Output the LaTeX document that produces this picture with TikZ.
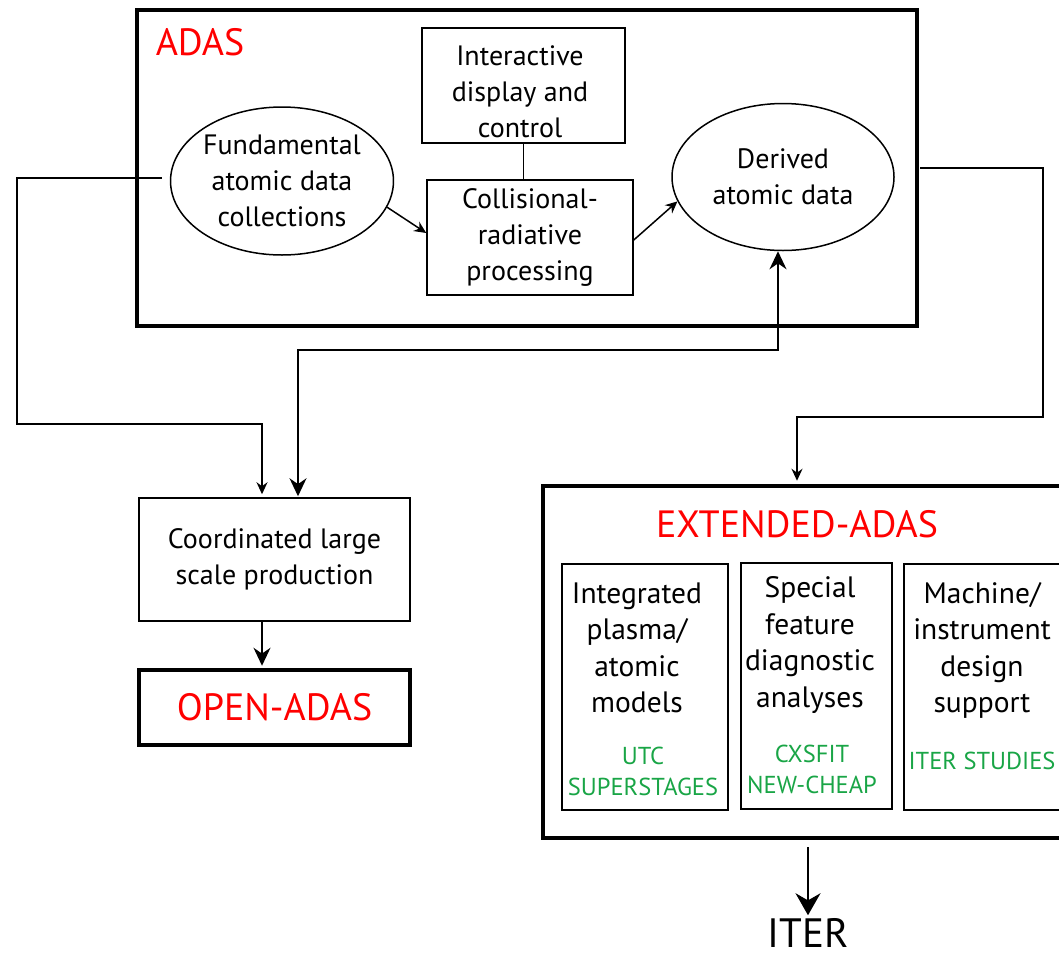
\documentclass[tikz,border=0pt]{standalone}
\usepackage{fontspec}
\setmainfont{PT Sans}
\usetikzlibrary{arrows.meta,shapes.geometric,positioning}
\definecolor{adasgreen}{RGB}{25,165,70}
\tikzset{
  base/.style={align=center, font=\fontsize{28}{36}\selectfont, inner sep=0pt},
  wide/.style={align=center, font=\fontsize{29.5}{36.5}\selectfont, inner sep=0pt},
  box/.style={base, draw, line width=1.5pt},
  sub/.style={draw, line width=2pt, inner sep=0pt},
  oval/.style={base, draw, ellipse, line width=1.5pt},
  frame/.style={draw, line width=4.5pt, inner sep=0pt},
  code/.style={align=center, text=adasgreen, font=\fontsize{24.5}{31}\selectfont, inner sep=0pt},
  redlbl/.style={text=red, font=\fontsize{38}{42}\selectfont, inner sep=0pt},
  bigtip/.style={>={Stealth[length=18pt,width=17pt]}},
  hugetip/.style={>={Stealth[length=22pt,width=25pt]}}
}
\begin{document}
\begin{tikzpicture}[x=1pt, y=-1pt, >={Stealth[length=12pt,width=11pt]}, line width=1.5pt]
\useasboundingbox (0,0) rectangle (1059,959);
\clip (0,0) rectangle (1059,959);

% ADAS block
\node[frame, minimum width=780pt, minimum height=316pt] (adas) at (527,168) {};
\node[redlbl, anchor=base west] (adaslbl) at (155,55) {ADAS};
\node[box, minimum width=203pt, minimum height=115pt] (inter) at (523.5,85.5) {};
\node[base] (intertxt) at (520,92) {Interactive\\display and\\control};
\node[oval, minimum width=222pt, minimum height=148pt] (fund) at (282,181) {Fundamental\\atomic data\\collections};
\node[box, minimum width=206pt, minimum height=115pt] (coll) at (530,237.5) {Collisional-\\radiative\\processing};
\node[oval, minimum width=222pt, minimum height=147pt] (derived) at (783,177) {Derived\\atomic data};

% outputs on the left
\node[box, minimum width=271pt, minimum height=123pt] (coord) at (274.5,559.5) {Coordinated large\\scale production};
\node[box, line width=4.5pt, minimum width=271pt, minimum height=75pt, font=\fontsize{38}{42}\selectfont, text=red] (open) at (274.5,707.5) {OPEN-ADAS};

% EXTENDED-ADAS block
\node[frame, minimum width=537pt, minimum height=352pt] (ext) at (811.5,662) {};
\node[redlbl, anchor=base] (extlbl) at (797,537) {EXTENDED-ADAS};
\node[sub, minimum width=166pt, minimum height=246pt] (intg) at (645,687) {};
\node[sub, minimum width=151pt, minimum height=246pt] (spec) at (816.5,686) {};
\node[sub, minimum width=164pt, minimum height=246pt] (mach) at (986,687) {};
\node[wide] (intgtxt) at (637,648) {Integrated\\plasma/\\atomic\\models};
\node[code] (intgcode) at (643,771) {UTC\\SUPERSTAGES};
\node[wide] (spectxt) at (810,645) {Special\\feature\\diagnostic\\analyses};
\node[code] (speccode) at (812,769) {CXSFIT\\NEW-CHEAP};
\node[wide] (machtxt) at (982,650.5) {Machine/\\instrument\\design\\support};
\node[code] (machcode) at (982,761) {ITER STUDIES};
\node[font=\fontsize{41}{45}\selectfont, inner sep=1pt, anchor=base] (iter) at (808,947) {ITER};

% connectors
\coordinate (lcorner) at (17,424);
\coordinate (dcorner) at (298,350);
\coordinate (rstart) at (920,168);
\coordinate (rcorner) at (1043,417);
\draw (inter.south) -- (inter.south |- coll.north);
\draw[->] (fund.-14) -- ([yshift=4.5pt]coll.west);
\draw[->] ([yshift=-2.5pt]coll.east) -- (derived.193);
\draw[->, shorten >=3pt] ([xshift=-8pt,yshift=3pt]fund.west) -| (lcorner) -| ([xshift=-12.5pt]coord.north);
\draw[<->, bigtip, shorten >=1pt] ([xshift=-5pt]derived.south) |- (dcorner) -- (dcorner |- coord.north);
\draw[->, shorten >=3pt] (rstart) -| (rcorner) -| ([xshift=-14.5pt]ext.north);
\draw[->, bigtip, shorten >=2pt] ([xshift=-12.5pt]coord.south) -- ([xshift=-12.5pt]open.north);
\draw[->, hugetip, shorten >=1pt] ([xshift=-3.5pt,yshift=-7pt]ext.south) -- (iter.north);
\end{tikzpicture}
\end{document}
